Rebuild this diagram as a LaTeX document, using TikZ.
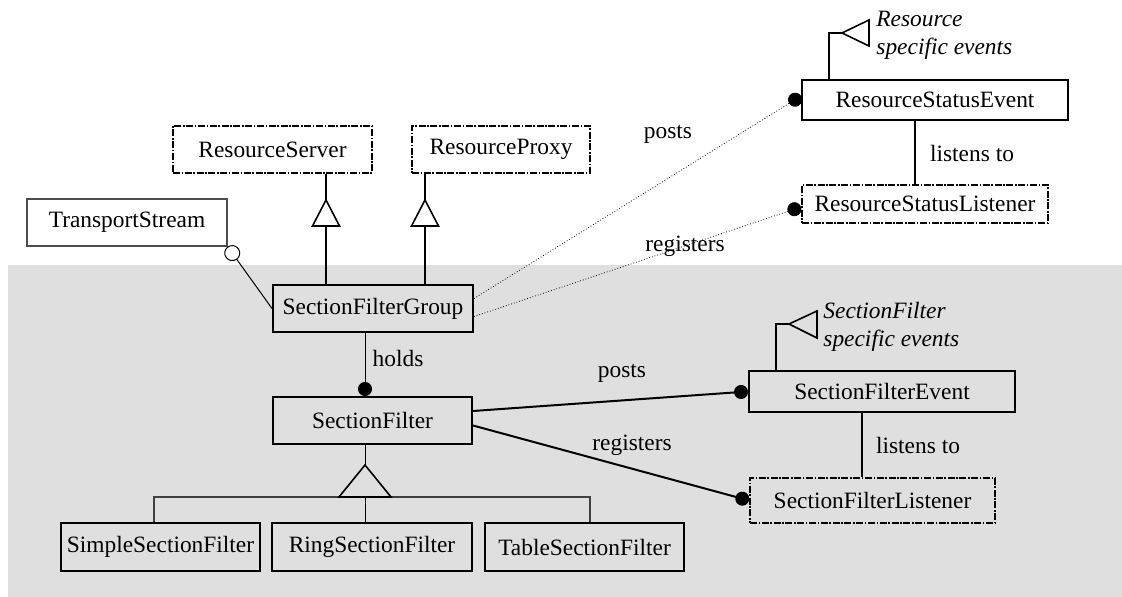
\documentclass[tikz,border=0pt]{standalone}
\usepackage{fontspec}
\setmainfont{Liberation Serif}
\usetikzlibrary{arrows.meta,calc}
\definecolor{panelgray}{RGB}{223,223,223}
\newcommand{\umlfont}{\fontsize{11.7}{14}\selectfont}
\tikzset{
  umlbox/.style={draw,line width=1pt,inner sep=0pt,font=\umlfont},
  ifbox/.style={umlbox,dash pattern=on 3.5pt off 0.8pt on 0.8pt off 0.8pt},
  plainbox/.style={draw=black!70,line width=0.6pt,inner sep=0pt,font=\umlfont},
  lbl/.style={font=\umlfont,inner sep=0pt},
  note/.style={font=\umlfont\itshape,align=left,anchor=west,inner sep=0pt},
  dotend/.style={-{Circle[length=7pt]}},
  assoc/.style={line width=1pt},
  weak/.style={line width=0.4pt,densely dotted},
  gen/.style={line width=0.8pt},
  gentri/.style={line width=0.8pt,fill=#1},
}
\begin{document}
\begin{tikzpicture}[x=0.5pt,y=-0.5pt]
\useasboundingbox (0,0) rectangle (1122,597);
\fill[panelgray] (8,265) rectangle (1122,597);

% classes
\node[ifbox,minimum width=99.5pt,minimum height=23.5pt] (rs) at (272.5,149.5) {ResourceServer};
\node[ifbox,minimum width=89pt,minimum height=23.5pt] (rp) at (501,149.5) {ResourceProxy};
\node[plainbox,minimum width=100pt,minimum height=23.5pt] (ts) at (127,222.5) {TransportStream};
\node[umlbox,minimum width=100pt,minimum height=23.5pt] (sfg) at (373,308.5) {SectionFilterGroup};
\node[umlbox,minimum width=99.5pt,minimum height=23.5pt] (sf) at (372.5,420.5) {SectionFilter};
\node[umlbox,minimum width=99.5pt,minimum height=24pt] (simple) at (160.5,547) {SimpleSectionFilter};
\node[umlbox,minimum width=100pt,minimum height=24pt] (ring) at (372,547) {RingSectionFilter};
\node[umlbox,minimum width=99.5pt,minimum height=24pt] (table) at (584.5,547) {TableSectionFilter};
\node[umlbox,minimum width=133pt,minimum height=20pt] (rse) at (935,100) {ResourceStatusEvent};
\node[ifbox,minimum width=123pt,minimum height=19pt] (rsl) at (925,204) {ResourceStatusListener};
\node[umlbox,minimum width=133pt,minimum height=20.5pt] (sfe) at (882,391.5) {SectionFilterEvent};
\node[ifbox,minimum width=122.5pt,minimum height=22.5pt] (sfl) at (872.5,500.5) {SectionFilterListener};

% inheritance from server and proxy
\draw[gen] ([xshift=-23.5pt]sfg.north) -- ([xshift=26.75pt]rs.south);
\draw[gentri=white] (326,200) -- (312.5,226) -- (339.5,226) -- cycle;
\draw[gen] ([xshift=26pt]sfg.north) -- ([xshift=-38pt]rp.south);
\draw[gentri=white] (425,200) -- (411.5,226) -- (438.5,226) -- cycle;

% transport stream
\draw[line width=0.5pt,{Circle[open,length=8pt]}-] (ts.south east) -- (sfg.west);

% holds
\draw[line width=0.5pt,dotend] ([xshift=-4pt]sfg.south) -- ([xshift=-3.75pt]sf.north);
\node[lbl] (holds) at (398,358) {holds};

% subclasses
\coordinate (apex) at (365,465);
\draw[line width=0.5pt] ([xshift=-3.75pt]sf.south) -- (apex);
\draw[line width=0.6pt,black!75] ([xshift=-3.25pt]simple.north) |- (365,497) -| ([xshift=2.75pt]table.north);
\draw[line width=0.5pt] (365,497) -- ([xshift=-3.5pt]ring.north);
\draw[gentri=panelgray] (apex) -- (339,497) -- (391,497) -- cycle;

% section filter events
\draw[assoc,dotend] ([yshift=4.75pt]sf.east) -- (sfe.west);
\draw[assoc,dotend] ([yshift=-2.5pt]sf.east) -- (sfl.west);
\node[lbl] (posts2) at (622,373) {posts};
\node[lbl] (regs2) at (632,445) {registers};
\draw[assoc] (sfe.south -| 862,0) -- (sfl.north -| 862,0);
\node[lbl] (lis2) at (918,445) {listens to};
\draw[gen] ([xshift=-53pt]sfe.north) |- (789,324);
\draw[gentri=panelgray] (789,324) -- (817,311) -- (817,338) -- cycle;
\node[note] (sfnote) at (823,327) {SectionFilter\\specific events};

% resource events
\draw[weak,dotend] ([yshift=5pt]sfg.east) -- ([yshift=2pt]rse.west);
\draw[weak,dotend] ([yshift=-4pt]sfg.east) -- ([yshift=-1.5pt]rsl.west);
\node[lbl] (posts1) at (668,134) {posts};
\node[lbl] (regs1) at (685,246) {registers};
\draw[assoc] (rse.south -| 915,0) -- (rsl.north -| 915,0);
\node[lbl] (lis1) at (972,154) {listens to};
\draw[gen] ([xshift=-53pt]rse.north) |- (842,33);
\draw[gentri=white] (842,33) -- (869,20) -- (869,46) -- cycle;
\node[note] (rsnote) at (876,35) {Resource\\specific events};
\end{tikzpicture}
\end{document}
